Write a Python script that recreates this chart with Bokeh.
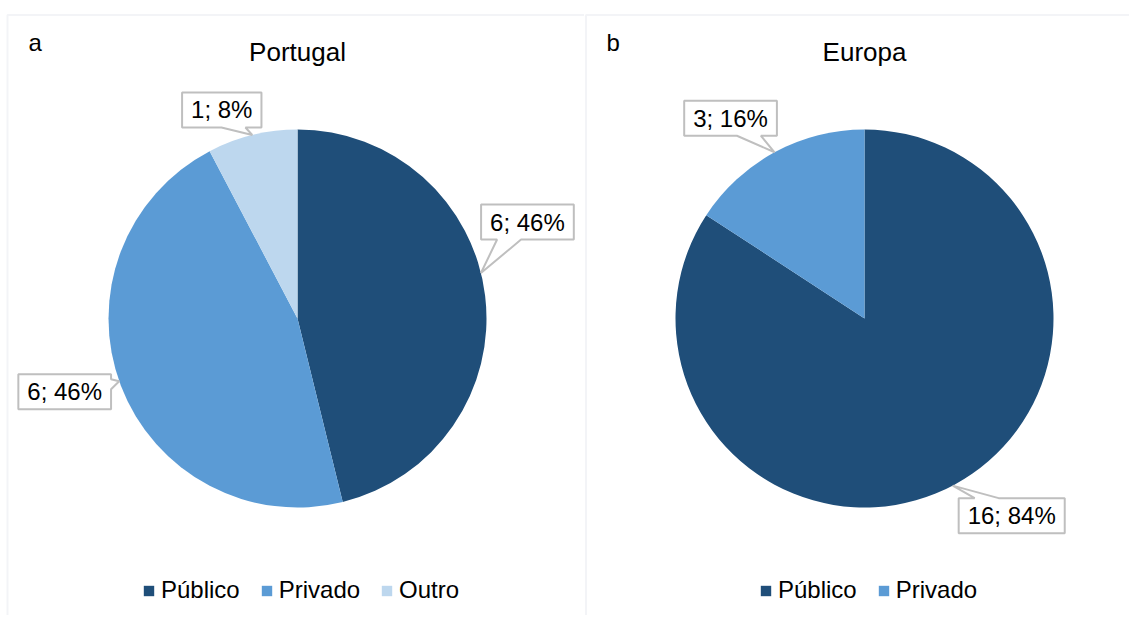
import math
from bokeh.plotting import figure
from bokeh.models import ColumnDataSource, Range1d, BoxAnnotation, Legend, LegendItem
from bokeh.layouts import row
from bokeh.embed import file_html
from bokeh.resources import INLINE
from bokeh.core.properties import value

# ---------------- data ----------------
panel_letters = ["a", "b"]
titles = ["Portugal", "Europa"]
categories_pt = ["Público", "Privado", "Outro"]
values_pt = [6, 6, 1]
categories_eu = ["Público", "Privado"]
values_eu = [16, 3]
category_colors = {"Público": "#1F4E79", "Privado": "#5B9BD5", "Outro": "#BDD7EE"}

# ---------------- layout / style ----------------
FONT_NAME = "Liberation Sans"
FONT = value(FONT_NAME)
REF_H = 617              # screen coordinate flip (y grows down on screen)
FIG_H = 615
BORDER = "#D6DCE4"
CALLOUT_LINE = "#BFBFBF"
ADV = {"0": .556, "1": .556, "2": .556, "3": .556, "4": .556, "5": .556, "6": .556,
       "7": .556, "8": .556, "9": .556, ";": .278, " ": .278, "%": .889}
LABEL_PX = 24


def Y(s):
    return REF_H - s


panels = [
    dict(x0=0, w=584, cx=297, cy=318, r=189, title_x=297, letter_x=28, legend_x=143,
         border_x=7, cats=categories_pt, vals=values_pt,
         tip_shift=[-7.0, 1.4, 0.0],
         box_off=[(46.5, -51), (-54.5, 10.5), (-30.5, -25)]),
    dict(x0=584, w=545, cx=864, cy=318, r=189, title_x=864, letter_x=606, legend_x=760,
         border_x=585.5, cats=categories_eu, vals=values_eu,
         tip_shift=[0.6, 0.0],
         box_off=[(59, 30), (-44, -34)]),
]


def callout_polygon(l, t, r, b, tx, ty):
    """Rectangle with a pointer to (tx, ty); screen coordinates."""
    if ty > b:
        bx = min(max(tx, l + 28), r - 28)
        pts = [(l, t), (r, t), (r, b), (bx + 12, b), (tx, ty), (bx - 12, b), (l, b)]
    elif ty < t:
        bx = min(max(tx, l + 28), r - 28)
        pts = [(l, t), (bx - 12, t), (tx, ty), (bx + 12, t), (r, t), (r, b), (l, b)]
    elif tx > r:
        by = min(max(ty, t + 10), b - 10)
        pts = [(l, t), (r, t), (r, by - 5), (tx, ty), (r, by + 5), (r, b), (l, b)]
    else:
        by = min(max(ty, t + 10), b - 10)
        pts = [(l, t), (r, t), (r, b), (l, b), (l, by + 5), (tx, ty), (l, by - 5)]
    return [p[0] for p in pts], [Y(p[1]) for p in pts]


figs = []
for k, P in enumerate(panels):
    p = figure(width=P["w"], height=FIG_H, output_backend="svg", toolbar_location=None,
               x_range=Range1d(P["x0"], P["x0"] + P["w"]),
               y_range=Range1d(Y(FIG_H), Y(0)),
               x_axis_location=None, y_axis_location=None,
               min_border=0, outline_line_color=None)
    p.grid.visible = False

    total = sum(P["vals"])
    fracs = [v / total for v in P["vals"]]
    cum = [0.0]
    for f in fracs:
        cum.append(cum[-1] + f)
    src = ColumnDataSource(dict(
        cat=P["cats"], val=P["vals"],
        start=[math.pi / 2 - 2 * math.pi * c for c in cum[:-1]],
        end=[math.pi / 2 - 2 * math.pi * c for c in cum[1:]],
        color=[category_colors[c] for c in P["cats"]],
        x=[P["cx"]] * len(P["cats"]), y=[Y(P["cy"])] * len(P["cats"]),
    ))
    wr = p.wedge(x="x", y="y", radius=P["r"], start_angle="start", end_angle="end",
                 direction="clock", fill_color="color", line_color=None, source=src)

    # data labels (callouts)
    lx, ly, ltxt = [], [], []
    pxs, pys = [], []
    for i, v in enumerate(P["vals"]):
        txt = f"{v}; {round(100 * fracs[i])}%"
        mid = 360 * (cum[i] + cum[i + 1]) / 2 + P["tip_shift"][i]
        tx = P["cx"] + P["r"] * math.sin(math.radians(mid))
        ty = P["cy"] - P["r"] * math.cos(math.radians(mid))
        bcx, bcy = tx + P["box_off"][i][0], ty + P["box_off"][i][1]
        tw = sum(ADV.get(ch, .556) for ch in txt) * LABEL_PX
        bw, bh = tw + 18, 35
        xs, ys = callout_polygon(bcx - bw / 2, bcy - bh / 2, bcx + bw / 2, bcy + bh / 2, tx, ty)
        pxs.append(xs)
        pys.append(ys)
        lx.append(bcx)
        ly.append(Y(bcy))
        ltxt.append(txt)
    p.patches(pxs, pys, fill_color="white", line_color=CALLOUT_LINE, line_width=2)
    p.text(x=lx, y=ly, text=ltxt, text_font=FONT, text_font_size=value(f"{LABEL_PX}px"),
           text_align="center", text_baseline="middle", text_color="#000000")

    # title and panel letter
    p.text(x=[P["title_x"]], y=[Y(51)], text=[titles[k]], text_font=FONT,
           text_font_size=value("26px"), text_align="center", text_baseline="middle",
           text_color="#000000")
    p.text(x=[P["letter_x"]], y=[Y(42)], text=[panel_letters[k]], text_font=FONT,
           text_font_size=value("24px"), text_align="left", text_baseline="middle",
           text_color="#000000")

    # panel border (top + left edge)
    p.add_layout(BoxAnnotation(left=P["border_x"], right=P["x0"] + P["w"] + 50,
                               top=Y(14.5), bottom=Y(700), fill_alpha=0,
                               line_color=BORDER, line_width=2))

    legend = Legend(items=[LegendItem(label=c, renderers=[wr], index=i)
                           for i, c in enumerate(P["cats"])],
                    orientation="horizontal", location=(P["legend_x"] - P["x0"] - 1, 11),
                    glyph_width=13, glyph_height=13, label_standoff=6, spacing=20,
                    padding=0, margin=0, label_text_font=FONT_NAME,
                    label_text_font_size="24px", label_text_color="#000000",
                    border_line_alpha=0, background_fill_alpha=0)
    p.add_layout(legend)
    figs.append(p)

layout = row(*figs, spacing=0)
open("out.html", "w").write(file_html(layout, INLINE))
